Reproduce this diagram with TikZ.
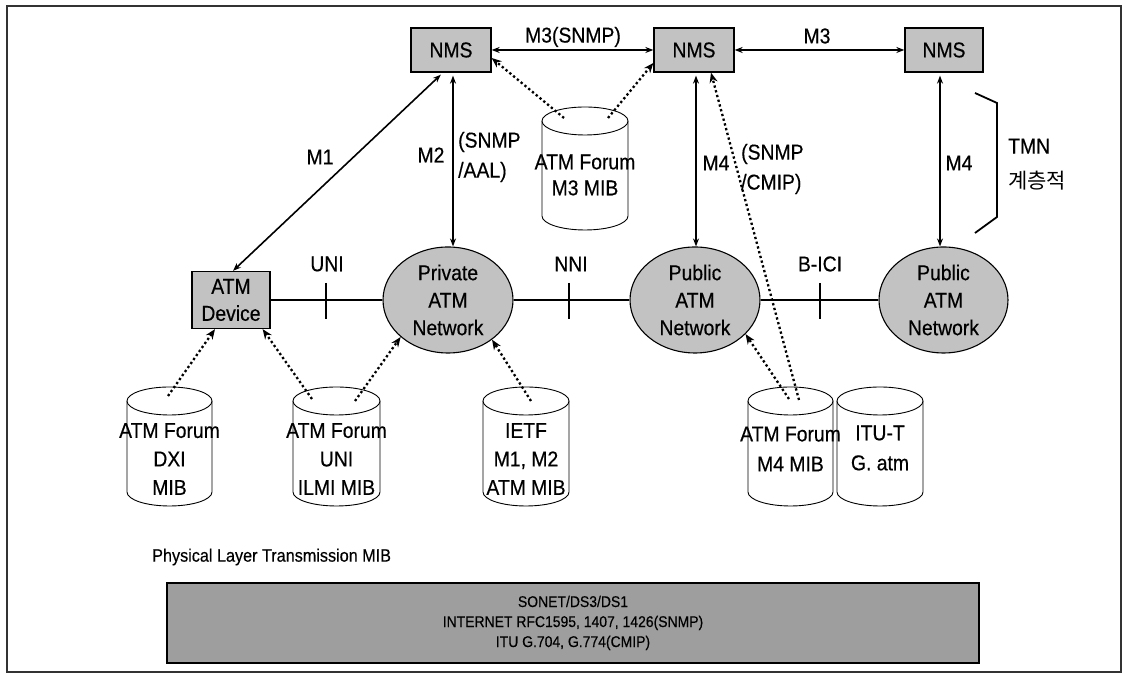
\documentclass[tikz,border=0pt]{standalone}
\usepackage{fontspec}
\setmainfont{Liberation Sans}[FakeStretch=0.9,FakeBold=0.4]
\newfontfamily\cjk{Noto Sans CJK KR}
\usetikzlibrary{arrows.meta,shapes.geometric}

% MIB database drawn as a cylinder: centre x, top-cap y, bottom-cap y, half width
\newcommand\mibcyl[4]{%
  \draw[cyl] (#1-#4,#2) -- (#1-#4,#3) arc[start angle=180,end angle=360,x radius=#4,y radius=14] -- (#1+#4,#2);
  \draw[cyl] (#1,#2) ellipse[x radius=#4,y radius=14];}

\begin{document}
\begin{tikzpicture}[x=1pt,y=1pt,
  every node/.style={font=\fontsize{21.5}{28}\selectfont, inner sep=0pt},
  box/.style={draw, line width=1.3pt, fill=black!24, minimum width=80pt, minimum height=44pt},
  net/.style={ellipse, draw, line width=1.1pt, fill=black!24, minimum width=130pt, minimum height=106pt,
    align=center, font=\fontsize{21.5}{27.5}\selectfont},
  mibtext/.style={align=center, font=\fontsize{21.5}{28.5}\selectfont},
  cyl/.style={draw, line width=0.9pt, fill=white},
  mgmt/.style={line width=1.6pt, {Stealth[length=8pt,width=6pt]}-{Stealth[length=8pt,width=6pt]}},
  feed/.style={line width=2.3pt, dash pattern=on 2.3pt off 2.6pt, -{Stealth[length=10pt,width=8pt]}},
  link/.style={line width=2.2pt},
  tick/.style={line width=2.6pt},
  side/.style={align=left, anchor=west, font=\fontsize{21.5}{30}\selectfont}
]
\useasboundingbox (0,0) rectangle (1128,679);
\draw[line width=1.2pt, black!80] (7,7) rectangle (1121,673);

% management stations
\node[box] (nms1) at (451,629) {NMS};
\node[box] (nms2) at (694,629) {NMS};
\node[box, minimum width=78pt] (nms3) at (944,629) {NMS};

% devices and networks
\node[box, minimum width=78pt, minimum height=57pt, align=center, font=\fontsize{21.5}{27}\selectfont] (dev) at (231,379) {ATM\\Device};
\node[net] (priv) at (448,379) {Private\\ATM\\Network};
\node[net] (pub1) at (695,379) {Public\\ATM\\Network};
\node[net, minimum width=129pt] (pub2) at (943.5,379) {Public\\ATM\\Network};

% MIB databases
\mibcyl{585}{558}{463}{43}
\mibcyl{169.5}{278}{187}{42.5}
\mibcyl{336.5}{278}{187}{43.5}
\mibcyl{526}{278}{187}{43}
\mibcyl{790.5}{278}{187}{42.5}
\mibcyl{880}{278}{187}{43}

\node[mibtext, font=\fontsize{21.5}{26}\selectfont] (m3mib) at (585,504) {ATM Forum\\M3 MIB};
\node[mibtext] (dximib) at (169.5,220) {ATM Forum\\DXI\\MIB};
\node[mibtext] (ilmimib) at (336.5,220) {ATM Forum\\UNI\\ILMI MIB};
\node[mibtext] (ietfmib) at (526,220) {IETF\\M1, M2\\ATM MIB};
\node[mibtext, font=\fontsize{21.5}{30}\selectfont] (m4mib) at (790.5,230) {ATM Forum\\M4 MIB};
\node[mibtext, font=\fontsize{21.5}{30}\selectfont] (itumib) at (880,231) {ITU-T\\G. atm};

% management interfaces
\draw[mgmt] (nms1.east) -- (nms2.west);
\draw[mgmt] (nms2.east) -- (nms3.west);
\draw[mgmt, shorten <=3pt] ([xshift=-8pt]nms1.south) -- ([xshift=2pt]dev.north);
\draw[mgmt, shorten <=3pt] ([xshift=2pt]nms1.south) -- ([xshift=2pt]nms1.south |- priv.north);
\draw[mgmt, shorten <=3pt] ([xshift=2pt]nms2.south) -- ([xshift=2pt]nms2.south |- pub1.north);
\draw[mgmt, shorten <=3pt] ([xshift=-4pt]nms3.south) -- ([xshift=-4pt]nms3.south |- pub2.north);

\node (lm3s) at (573,642) {M3(SNMP)};
\node (lm3) at (817,643) {M3};
\node (lm1) at (320,522) {M1};
\node (lm2) at (431,524) {M2};
\node[side] (lm2p) at (458,522) {(SNMP\\/AAL)};
\node (lm4a) at (716,516) {M4};
\node[side] (lm4p) at (741,510) {(SNMP\\/CMIP)};
\node (lm4b) at (959,516) {M4};
\node[side, font=\fontsize{21.5}{35}\selectfont] (ltmn) at (1008,514.5) {TMN\\{\cjk\fontsize{21}{35}\selectfont 계층적}};
\draw[line width=1.8pt] (975,586) -- (997,576) -- (997,462) -- (975,446);

% network links with interface marks
\draw[link] (dev.east) -- (priv.west);
\draw[link] (priv.east) -- (pub1.west);
\draw[link] (pub1.east) -- (pub2.west);
\coordinate (tuni) at (326,378);
\coordinate (tnni) at (569,378);
\coordinate (tbici) at (820,378);
\draw[tick] ([yshift=18pt]tuni) -- ([yshift=-18pt]tuni);
\draw[tick] ([yshift=18pt]tnni) -- ([yshift=-18pt]tnni);
\draw[tick] ([yshift=18pt]tbici) -- ([yshift=-18pt]tbici);
\node (luni) at (327,415) {UNI};
\node (lnni) at (571,415) {NNI};
\node (lbici) at (820,415) {B-ICI};

% MIB references
\coordinate (m3A) at (564,561);
\coordinate (m3B) at (608,561);
\coordinate (dxiA) at (168,283);
\coordinate (uniA) at (312,280);
\coordinate (uniB) at (355,278);
\coordinate (ietfA) at (531,278);
\coordinate (m4A) at (789,280);
\coordinate (m4B) at (799,279);
\draw[feed] (m3A) -- ([yshift=-8pt]nms1.east);
\draw[feed] (m3B) -- ([yshift=-13pt]nms2.west);
\draw[feed] (dxiA) -- ([xshift=-16pt]dev.south);
\draw[feed] (uniA) -- ([xshift=-8pt]dev.south east);
\draw[feed] (uniB) -- (priv.218);
\draw[feed] (ietfA) -- (priv.318);
\draw[feed] (m4A) -- (pub1.326);
\draw[feed] (m4B) -- ([xshift=17pt]nms2.south);

% physical layer
\node[anchor=west, font=\fontsize{18}{18}\selectfont] (lphy) at (152,122) {Physical Layer Transmission MIB};
\node[draw, line width=1.1pt, fill=black!38, minimum width=812pt, minimum height=80pt, align=center,
  font=\fontsize{15.5}{20}\selectfont] (phy) at (573,56)
  {SONET/DS3/DS1\\INTERNET RFC1595, 1407, 1426(SNMP)\\ITU G.704, G.774(CMIP)};
\end{tikzpicture}
\end{document}
